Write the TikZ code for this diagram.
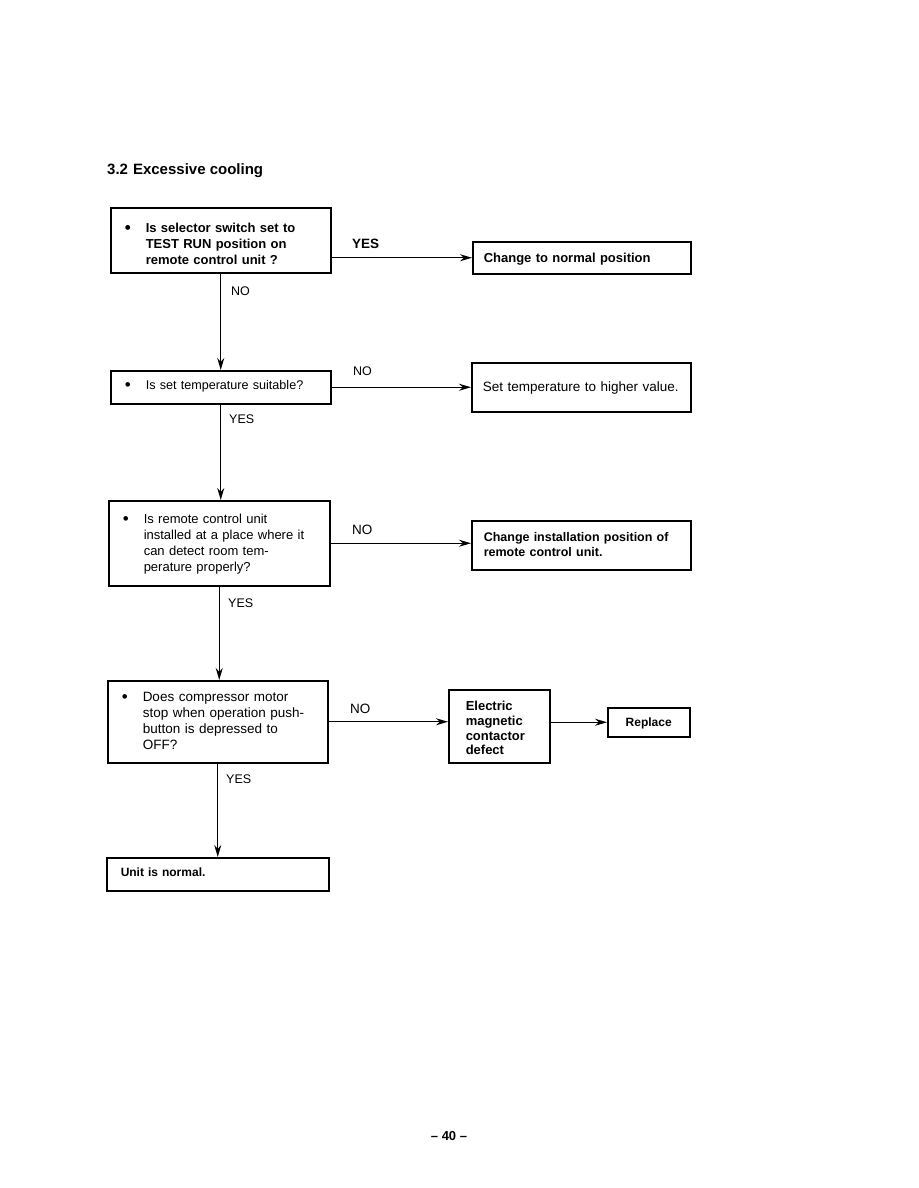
\documentclass[tikz,border=0pt]{standalone}
\usepackage{fontspec}
\setmainfont{Liberation Sans}
\usetikzlibrary{arrows.meta}

\tikzset{
  box/.style={draw, line width=1.5pt, rectangle, anchor=north west, align=left,
    inner xsep=12pt, inner ysep=0pt, font=\fontsize{13}{15.8}\selectfont},
  arr/.style={-{Stealth[length=12pt,width=7pt]}, line width=1.1pt},
  lbl/.style={anchor=base west, inner sep=0pt, font=\fontsize{12.5}{14}\selectfont}
}
\newcommand{\bul}[2]{\makebox[21pt][l]{\raisebox{-0.5pt}{\fontsize{17}{17}\selectfont\textbullet}}\parbox[t]{#1}{#2}}

\begin{document}
\begin{tikzpicture}[x=1pt,y=1pt]
\useasboundingbox (0,0) rectangle (918,-1188);

\node[anchor=base west, inner sep=0pt, font=\fontsize{15}{18}\selectfont\bfseries] (title) at (107,-174) {3.2\,\,Excessive cooling};

% questions
\node[box, inner xsep=14pt, text width=192pt, text height=25pt, text depth=40pt,
  font=\fontsize{13}{15.8}\selectfont\bfseries] (q1) at (110,-207)
  {\bul{170pt}{Is selector switch set to\\TEST RUN position on\\remote control unit ?}};
\node[box, inner xsep=14pt, text width=192pt, text height=19pt, text depth=14pt,
  font=\fontsize{12.6}{15}\selectfont] (q2) at (110,-370)
  {\bul{170pt}{Is set temperature suitable?}};
\node[box, inner xsep=14pt, text width=193pt, text height=23pt, text depth=62pt] (q3) at (108,-500)
  {\bul{170pt}{Is remote control unit\\installed at a place where it\\can detect room tem-\\perature properly?}};
\node[box, inner xsep=14pt, text width=192pt, text height=21pt, text depth=61pt,
  font=\fontsize{13.5}{15.8}\selectfont] (q4) at (107,-680)
  {\bul{170pt}{Does compressor motor\\stop when operation push-\\button is depressed to\\OFF?}};
\node[box, inner xsep=14pt, text width=194pt, text height=19pt, text depth=14pt,
  font=\fontsize{12}{15}\selectfont\bfseries] (q5) at (106,-857)
  {Unit is normal.};

% answers
\node[box, inner xsep=11pt, text width=196pt, text height=21pt, text depth=11pt,
  font=\fontsize{13}{15}\selectfont\bfseries] (a1) at (472,-241)
  {Change to normal position};
\node[box, inner xsep=11pt, text width=197pt, text height=29pt, text depth=20pt,
  font=\fontsize{13.5}{15}\selectfont] (a2) at (471,-362)
  {Set temperature to higher value.};
\node[box, inner xsep=12pt, text width=195pt, text height=21pt, text depth=28pt,
  font=\fontsize{12.5}{15}\selectfont\bfseries] (a3) at (471,-520)
  {Change installation position of\\remote control unit.};
\node[box, inner xsep=17pt, text width=67pt, text height=21pt, text depth=52pt,
  font=\fontsize{13}{14.7}\selectfont\bfseries] (a4) at (448,-689)
  {Electric\\magnetic\\contactor\\defect};
\node[box, align=center, inner xsep=0pt, text width=82pt, text height=19pt, text depth=10pt,
  font=\fontsize{12}{14}\selectfont\bfseries] (r4) at (607,-707)
  {Replace};

% connectors
\draw[arr] (q1.south) -- (q1.south |- q2.north);
\draw[arr] (q2.south) -- (q2.south |- q3.north);
\draw[arr] (q3.south) -- (q3.south |- q4.north);
\draw[arr] (q4.south) -- (q4.south |- q5.north);
\draw[arr] (q1.east |- a1.west) -- (a1.west);
\draw[arr] (q2.east) -- (q2.east -| a2.west);
\draw[arr] (q3.east) -- (q3.east -| a3.west);
\draw[arr] (q4.east) -- (q4.east -| a4.west);
\draw[arr] (r4.west -| a4.east) -- (r4.west);

% labels
\node[lbl, font=\fontsize{13.5}{15}\selectfont\bfseries] (yes1) at (352,-248) {YES};
\node[lbl] (no1) at (231,-295) {NO};
\node[lbl] (no2) at (353,-375) {NO};
\node[lbl] (yes2) at (229,-423) {YES};
\node[lbl, font=\fontsize{13.5}{15}\selectfont] (no3) at (352,-534) {NO};
\node[lbl] (yes3) at (228,-607) {YES};
\node[lbl, font=\fontsize{13.5}{15}\selectfont] (no4) at (350,-713) {NO};
\node[lbl] (yes4) at (226,-783) {YES};

\node[anchor=base, inner sep=0pt, font=\fontsize{13}{15}\selectfont\bfseries] (page) at (449,-1140) {-- 40 --};
\end{tikzpicture}
\end{document}
